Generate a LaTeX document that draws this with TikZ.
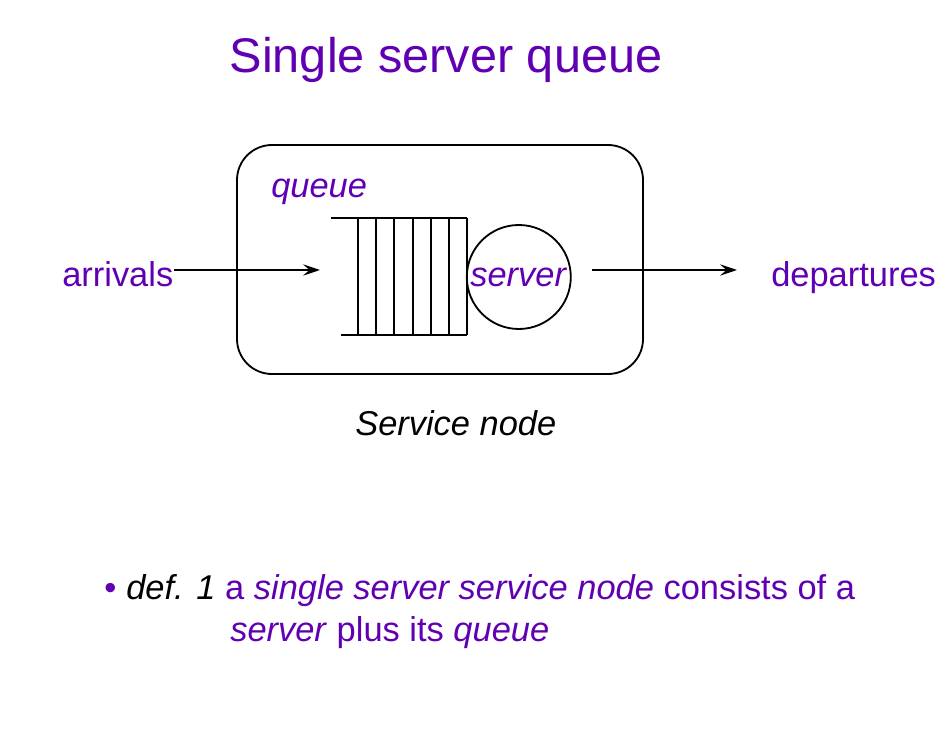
\documentclass[tikz,border=0pt]{standalone}
\usepackage{fontspec}
\setmainfont{Liberation Sans}
\usetikzlibrary{arrows.meta}

\begin{document}
\begin{tikzpicture}[
    every node/.style={font=\fontsize{24.5}{29}\selectfont, inner sep=0pt},
    label text/.style={text=slidepurple, anchor=base west},
    thin line/.style={line width=1.3pt, black},
    flow/.style={-{Stealth[length=12pt, width=8pt, inset=4.5pt]}, line width=1.3pt}
]
\definecolor{slidepurple}{RGB}{96,0,178}   % Purple

\useasboundingbox (0,0) rectangle (23.8,18.2);

% Title at the top
\node[font=\fontsize{34.6}{40}\selectfont, text=slidepurple, anchor=base] (title) at (11.15,16.375) {Single server queue};

% Service node box
\node[draw, thin line, rounded corners=0.875cm, minimum width=10.15cm, minimum height=5.725cm] (box) at (11.0,11.7125) {};
\node[label text] (queue label) at (6.775,13.25) {\textit{queue}};

% Queue buffer
\draw[thin line] (8.275,12.75) -- (11.68,12.75);
\draw[thin line] (8.525,9.825) -- (11.68,9.825);
\foreach \x in {0,...,6}
  \draw[thin line] (8.95+\x*0.455,12.75) -- (8.95+\x*0.455,9.825);

% Server
\node[circle, draw, thin line, minimum size=2.6cm, text=slidepurple] (server) at (12.97,11.275) {\textit{server}};

% Arrivals and departures
\node[label text] (arrivals) at (1.55,11.025) {arrivals};
\node[label text] (departures) at (19.275,11.025) {departures};
\coordinate (queue in) at (8.0,11.45);
\coordinate (server out) at (14.8,11.45);
\coordinate (departures in) at (18.425,11.45);
\draw[flow] (arrivals.east |- queue in) -- (queue in);
\draw[flow] (server out) -- (departures in);

\node[anchor=base west] (service label) at (8.875,7.3) {\textit{Service node}};

% Definition
\node[label text] (bullet) at (2.6,3.22) {\textbullet};
\node[anchor=base west] (def line) at (3.15,3.22) {\textit{def. 1} \textcolor{slidepurple}{a \textit{single server service node} consists of a}};
\node[label text] (def rest) at (5.75,2.16) {\textit{server} plus its \textit{queue}};

\end{tikzpicture}
\end{document}
